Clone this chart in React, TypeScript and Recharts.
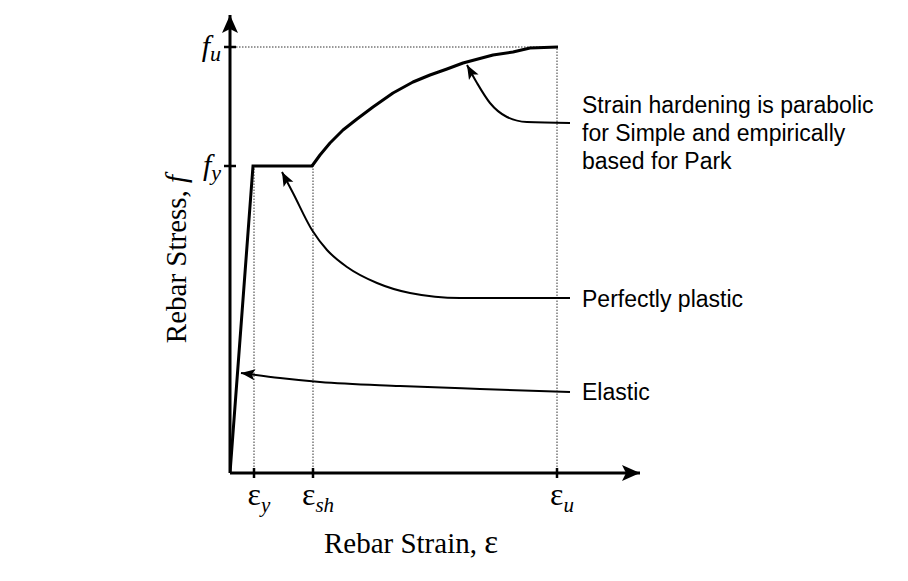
import React from "react";
import {
  LineChart,
  Line,
  XAxis,
  YAxis,
  ReferenceLine,
  ReferenceDot,
} from "recharts";

// strain / stress in plot units (origin at the axes corner)
const epsY = 24;
const epsSh = 83;
const epsU = 327;
const fy = 307;
const fu = 426;
const xMax = 410;
const yMax = 458;

const strainTicks = [epsY, epsSh, epsU];
const strainTickSubs = ["y", "sh", "u"];
const stressTicks = [fy, fu];
const stressTickSubs = ["y", "u"];

const elasticPlastic = [
  { x: 0, y: 0 },
  { x: 23, y: fy },
  { x: epsSh, y: fy },
];

const hardening = [
  { x: 82, y: 307 },
  { x: 90, y: 318 },
  { x: 100, y: 330 },
  { x: 113, y: 343 },
  { x: 127, y: 354 },
  { x: 143, y: 366 },
  { x: 163, y: 380 },
  { x: 183, y: 391 },
  { x: 200, y: 398 },
  { x: 217, y: 404 },
  { x: 233, y: 410 },
  { x: 263, y: 418 },
  { x: 283, y: 421 },
  { x: 300, y: 425 },
  { x: 328, y: 426 },
];

// leader curves for the notes (first point = arrow tip)
const hardeningNote = [
  { x: 237, y: 408 },
  { x: 247, y: 390 },
  { x: 260, y: 370 },
  { x: 277, y: 356 },
  { x: 297, y: 351 },
  { x: 340, y: 350 },
];

const plasticNote = [
  { x: 52, y: 301 },
  { x: 63, y: 280 },
  { x: 82, y: 243 },
  { x: 97, y: 223 },
  { x: 117, y: 206 },
  { x: 147, y: 190 },
  { x: 180, y: 180 },
  { x: 230, y: 175 },
  { x: 340, y: 175 },
];

const elasticNote = [
  { x: 11, y: 100 },
  { x: 50, y: 95 },
  { x: 90, y: 91 },
  { x: 170, y: 87 },
  { x: 250, y: 84 },
  { x: 340, y: 81 },
];

const notes = [
  { x: 352, y: 368, lines: ["Strain hardening is parabolic", "for Simple and empirically", "based for Park"] },
  { x: 352, y: 174, lines: ["Perfectly plastic"] },
  { x: 352, y: 81, lines: ["Elastic"] },
];

const SERIF = "'Liberation Serif', 'Times New Roman', serif";
const SANS = "'Liberation Sans', Arial, sans-serif";

const arrowDot = (pts: { x: number; y: number }[]) => (props: any) => {
  const { cx, cy, index } = props;
  if (index !== 0) return <g key={`n-${index}`} />;
  const dx = pts[0].x - pts[1].x;
  const dy = -(pts[0].y - pts[1].y);
  const ang = (Math.atan2(dy, dx) * 180) / Math.PI;
  return (
    <path
      key="tip"
      d="M0,0 L-14,-5.5 L-11,0 L-14,5.5 Z"
      fill="#000"
      transform={`translate(${cx},${cy}) rotate(${ang})`}
    />
  );
};

const StrainTick = (props: any) => {
  const { x, y, payload } = props;
  const i = strainTicks.indexOf(payload.value);
  return (
    <g>
      <line x1={x} x2={x} y1={y - 5} y2={y + 5} stroke="#000" strokeWidth={2.5} />
      <text x={x + 5} y={y + 32} textAnchor="middle" fontFamily={SERIF} fontSize={32} fill="#000">
        ε
        <tspan fontStyle="italic" fontSize={21} dy={7}>
          {strainTickSubs[i]}
        </tspan>
      </text>
    </g>
  );
};

const StressTick = (props: any) => {
  const { x, y, payload } = props;
  const i = stressTicks.indexOf(payload.value);
  return (
    <g>
      <line x1={x - 6} x2={x + 6} y1={y} y2={y} stroke="#000" strokeWidth={2.5} />
      <text x={x - 9} y={y + 9} textAnchor="end" fontFamily={SERIF} fontStyle="italic" fontSize={30} fill="#000">
        f
        <tspan fontSize={22} dy={5}>
          {stressTickSubs[i]}
        </tspan>
      </text>
    </g>
  );
};

const XTitle = (props: any) => {
  const vb = props.viewBox || { x: 230, y: 473, width: 410, height: 108 };
  return (
    <text x={vb.x + 181} y={vb.y + 80} textAnchor="middle" fontFamily={SERIF} fontSize={29} fill="#000">
      Rebar Strain, <tspan fontSize={33}>ε</tspan>
    </text>
  );
};

const YTitle = (props: any) => {
  const vb = props.viewBox || { x: 0, y: 15, width: 230, height: 458 };
  const cx = vb.x + vb.width - 54;
  const cy = vb.y + 244;
  return (
    <text
      x={cx}
      y={cy}
      textAnchor="middle"
      dominantBaseline="central"
      transform={`rotate(-90, ${cx}, ${cy})`}
      fontFamily={SERIF}
      fontSize={29}
      fill="#000"
    >
      Rebar Stress, <tspan fontStyle="italic">f</tspan>
    </text>
  );
};

const NoteText = (lines: string[]) => (props: any) => {
  const { cx, cy } = props;
  return (
    <text x={cx} y={cy} fontFamily={SANS} fontSize={23} fill="#000" dominantBaseline="central">
      {lines.map((l, i) => (
        <tspan key={i} x={cx} dy={i === 0 ? 0 : 28}>
          {l}
        </tspan>
      ))}
    </text>
  );
};

const XArrow = (props: any) => (
  <path d={`M${props.cx},${props.cy} l-18,-8 l4,8 l-4,8 Z`} fill="#000" />
);
const YArrow = (props: any) => (
  <path d={`M${props.cx},${props.cy} l-8,18 l8,-4 l8,4 Z`} fill="#000" />
);

const guide = { stroke: "#333", strokeWidth: 1, strokeDasharray: "1.5 1.5" };

export default function App() {
  return (
    <div style={{ position: "absolute", left: 0, top: 0, background: "#fff" }}>
      <LineChart width={908} height={581} margin={{ top: 15, right: 268, bottom: 0, left: 0 }}>
        <XAxis
          type="number"
          dataKey="x"
          domain={[0, xMax]}
          ticks={strainTicks}
          tick={<StrainTick />}
          tickLine={false}
          tickSize={0}
          tickMargin={0}
          height={108}
          axisLine={{ stroke: "#000", strokeWidth: 3 }}
          allowDataOverflow
          label={<XTitle />}
        />
        <YAxis
          type="number"
          dataKey="y"
          domain={[0, yMax]}
          ticks={stressTicks}
          tick={<StressTick />}
          tickLine={false}
          tickSize={0}
          tickMargin={0}
          width={230}
          axisLine={{ stroke: "#000", strokeWidth: 3 }}
          allowDataOverflow
          label={<YTitle />}
        />
        <ReferenceLine segment={[{ x: epsY, y: 0 }, { x: epsY, y: fy }]} {...guide} />
        <ReferenceLine segment={[{ x: epsSh, y: 0 }, { x: epsSh, y: fy }]} {...guide} />
        <ReferenceLine segment={[{ x: epsU, y: 0 }, { x: epsU, y: fu }]} {...guide} />
        <ReferenceLine segment={[{ x: 0, y: fu }, { x: epsU, y: fu }]} {...guide} />
        <Line data={elasticPlastic} dataKey="y" type="linear" stroke="#000" strokeWidth={3} dot={false} activeDot={false} isAnimationActive={false} strokeLinejoin="miter" />
        <Line data={hardening} dataKey="y" type="linear" stroke="#000" strokeWidth={3} dot={false} activeDot={false} isAnimationActive={false} strokeLinejoin="round" />
        <Line data={hardeningNote} dataKey="y" type="monotone" stroke="#000" strokeWidth={2} dot={arrowDot(hardeningNote)} activeDot={false} isAnimationActive={false} />
        <Line data={plasticNote} dataKey="y" type="monotone" stroke="#000" strokeWidth={2} dot={arrowDot(plasticNote)} activeDot={false} isAnimationActive={false} />
        <Line data={elasticNote} dataKey="y" type="monotone" stroke="#000" strokeWidth={2} dot={arrowDot(elasticNote)} activeDot={false} isAnimationActive={false} />
        {notes.map((n, i) => (
          <ReferenceDot key={i} x={n.x} y={n.y} r={0} ifOverflow="visible" shape={NoteText(n.lines)} />
        ))}
        <ReferenceDot x={xMax} y={0} r={0} ifOverflow="visible" shape={XArrow} />
        <ReferenceDot x={0} y={yMax} r={0} ifOverflow="visible" shape={YArrow} />
      </LineChart>
    </div>
  );
}
